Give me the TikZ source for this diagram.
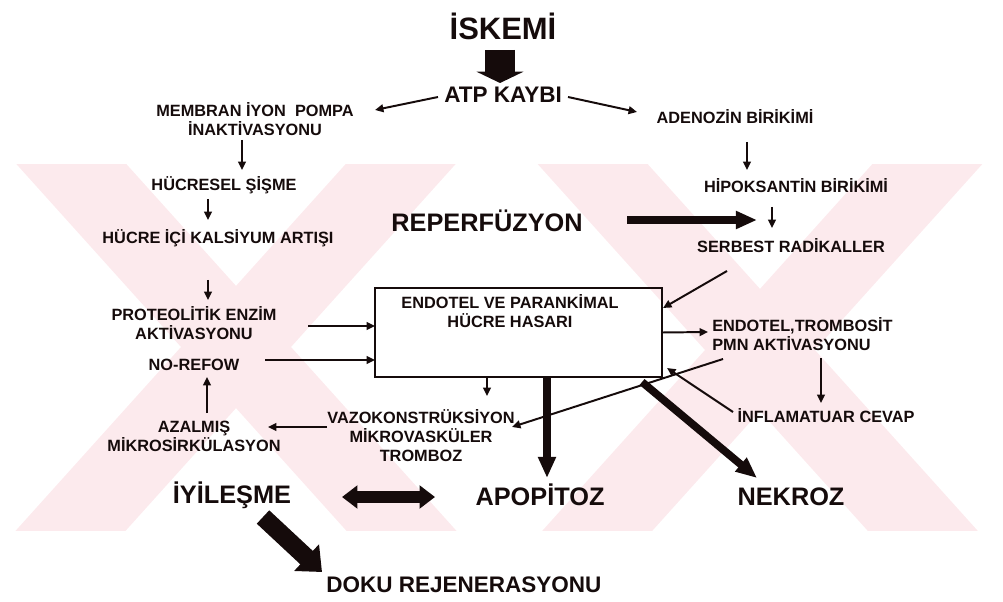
\documentclass[tikz,border=0pt]{standalone}
\usepackage{fontspec}
\setmainfont{Liberation Sans}
\usepackage{tikz}
\usetikzlibrary{arrows.meta,calc}
\definecolor{ink}{HTML}{150B0B}
\definecolor{wmpink}{HTML}{FCEAED}
\tikzset{
  etiket/.style={inner sep=0pt,font=\fontsize{11.6}{13.5}\selectfont\bfseries,text height=8.3pt,text depth=0pt,text=ink},
  etiketler/.style={inner sep=0pt,align=center,font=\fontsize{11.6}{13.5}\selectfont\bfseries,text=ink},
  baslik/.style={inner sep=0pt,font=\fontsize{18}{21}\selectfont\bfseries,text height=12.9pt,text depth=0pt,text=ink},
  ok/.style={-{Triangle[length=6pt,width=5.5pt]},line width=1.4pt,ink},
  kalinok/.style={-{Triangle[length=15pt,width=12pt]},line width=5.5pt,ink},
}

\begin{document}
\begin{tikzpicture}[x=0.025cm,y=-0.025cm]
\useasboundingbox (0,0) rectangle (1003,602);
\begin{scope}
\clip (0,165) rectangle (1003,530);
\foreach \cx/\cy in {236/347,760/350}{
  \fill[wmpink] (\cx-235,\cy-200) -- (\cx-125,\cy-200) -- (\cx+235,\cy+200) -- (\cx+125,\cy+200) -- cycle;
  \fill[wmpink] (\cx+125,\cy-200) -- (\cx+235,\cy-200) -- (\cx-125,\cy+200) -- (\cx-235,\cy+200) -- cycle;
}
\end{scope}

\node[inner sep=0pt,font=\fontsize{22}{26}\selectfont\bfseries,text height=15.8pt,text depth=0pt,text=ink] (iskemi) at (503,28) {İSKEMİ};
\node[inner sep=0pt,font=\fontsize{16}{19}\selectfont\bfseries,text height=11.5pt,text depth=0pt,text=ink] (atp) at (503,94) {ATP KAYBI};
\node[etiketler] (membran) at (255,119) {MEMBRAN İYON~~POMPA\\İNAKTİVASYONU};
\node[etiket] (adenozin) at (735,118) {ADENOZİN BİRİKİMİ};
\node[etiket] (hucresel) at (224,185) {HÜCRESEL ŞİŞME};
\node[etiket] (kalsiyum) at (218,238) {HÜCRE İÇİ KALSİYUM ARTIŞI};
\node[etiketler] (proteo) at (194,323) {PROTEOLİTİK ENZİM\\AKTİVASYONU};
\node[etiket] (norefow) at (194,365) {NO-REFOW};
\node[etiketler] (azalmis) at (194,436) {AZALMIŞ\\MİKROSİRKÜLASYON};
\node[etiketler] (vazo) at (421,436) {VAZOKONSTRÜKSİYON\\MİKROVASKÜLER\\TROMBOZ};
\node[baslik] (reperfuzyon) at (487,222) {REPERFÜZYON};
\node[etiket] (hipoksantin) at (796,187) {HİPOKSANTİN BİRİKİMİ};
\node[etiket] (serbest) at (791,247) {SERBEST RADİKALLER};
\node[draw=ink,line width=1.5pt,inner sep=0pt,outer sep=0pt,minimum width=7.175cm,minimum height=2.225cm] (hasar) at (518.5,332.5) {};
\node[etiketler] (hasarmetin) at (510,311) {ENDOTEL VE PARANKİMAL\\HÜCRE HASARI};
\node[etiketler,align=left,anchor=west] (endotel) at (712,334) {ENDOTEL,TROMBOSİT\\PMN AKTİVASYONU};
\node[etiket] (inflamatuar) at (826,417) {İNFLAMATUAR CEVAP};
\node[baslik] (iyilesme) at (232,494) {İYİLEŞME};
\node[baslik] (apopitoz) at (540,496) {APOPİTOZ};
\node[baslik] (nekroz) at (791,496) {NEKROZ};
\node[inner sep=0pt,font=\fontsize{16}{19}\selectfont\bfseries,text height=11.5pt,text depth=0pt,text=ink] (doku) at (464,584) {DOKU REJENERASYONU};

\draw[line width=21pt,ink,-{Triangle[length=8pt,width=33pt]}] ($(iskemi.center)+(-3,22)$) -- ($(atp.center)+(-3,-11)$);
\draw[ok] ($(atp.center)+(-65,3)$) -- ($(membran.center)+(120,-9)$);
\draw[ok] ($(atp.center)+(65,3)$) -- ($(adenozin.center)+(-98,-6)$);
\draw[ok] ($(membran.center)+(-13,21)$) -- ($(hucresel.center)+(18,-15)$);
\draw[ok] ($(hucresel.center)+(-16,14)$) -- ($(kalsiyum.center)+(-10,-18)$);
\draw[ok] ($(kalsiyum.center)+(-10,42)$) -- ($(proteo.center)+(14,-23)$);
\draw[ok] ($(proteo.center)+(114,3)$) -- ($(hasar.west)+(0,-6.5)$);
\draw[ok] ($(norefow.center)+(71,-5)$) -- ($(hasar.west)+(0,27.5)$);
\draw[ok] ($(azalmis.center)+(13,-23)$) -- ($(norefow.center)+(13,12)$);
\draw[ok] ($(vazo.center)+(-94,-9)$) -- ($(azalmis.center)+(74,-9)$);
\draw[ok] ($(hasar.south)+(-31.5,0)$) -- ($(vazo.center)+(66,-40)$);
\draw[ok] ($(adenozin.center)+(12,24)$) -- ($(hipoksantin.center)+(-49,-17)$);
\draw[ok] ($(hipoksantin.center)+(-24,20)$) -- ($(serbest.center)+(-19,-19)$);
\draw[ok] ($(serbest.center)+(-64,24)$) -- ($(hasar.north east)+(1,20)$);
\draw[ok] (hasar.east) -- ($(endotel.west)+(-4,-2)$);
\draw[ok] ($(endotel.west)+(109,24)$) -- ($(inflamatuar.center)+(-5,-14)$);
\draw[ok] ($(inflamatuar.center)+(-93,-5)$) -- ($(hasar.south east)+(5,-9)$);
\draw[ok] ($(endotel.west)+(11,25)$) -- ($(vazo.center)+(91,-9)$);
\draw[kalinok] ($(reperfuzyon.center)+(140,-2)$) -- ($(serbest.center)+(-34,-27)$);
\draw[kalinok] ($(hasar.south)+(28.5,0)$) -- ($(apopitoz.center)+(7,-18)$);
\draw[kalinok] ($(hasar.south east)+(-20,5)$) -- ($(nekroz.center)+(-34,-18)$);
\draw[line width=9pt,ink,{Triangle[length=11pt,width=16pt]}-{Triangle[length=11pt,width=16pt]}] ($(iyilesme.center)+(110,3)$) -- ($(apopitoz.center)+(-105,1)$);
\draw[line width=13pt,ink,-{Triangle[length=15pt,width=25pt]}] ($(iyilesme.center)+(31,23)$) -- ($(doku.center)+(-142,-12)$);
\end{tikzpicture}
\end{document}
